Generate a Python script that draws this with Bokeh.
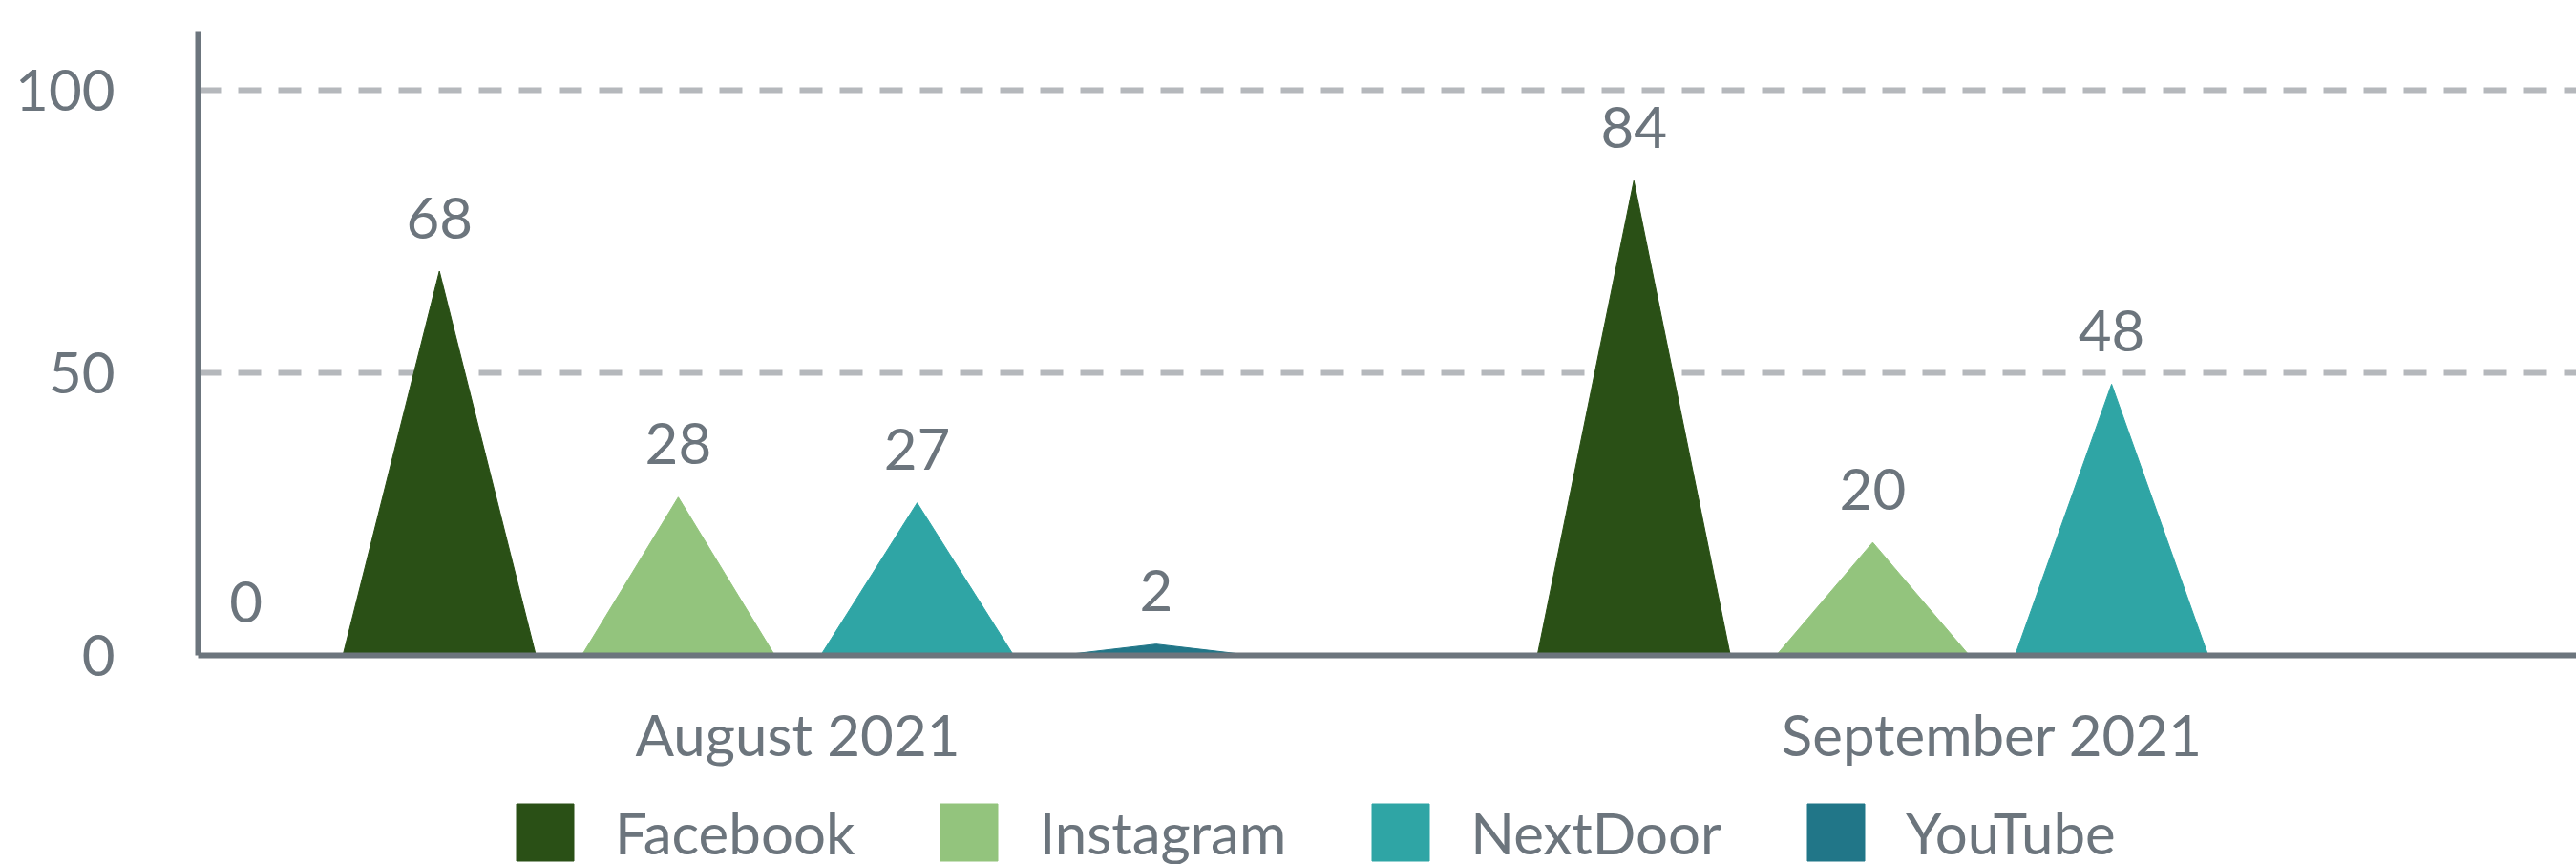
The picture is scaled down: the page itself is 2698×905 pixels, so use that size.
from bokeh.plotting import figure
from bokeh.models import (ColumnDataSource, FixedTicker, Legend, LegendItem, Range1d)
from bokeh.layouts import column
from bokeh.core.properties import value
from bokeh.embed import file_html
from bokeh.resources import INLINE

# ---- data ----
categories = ["August 2021", "September 2021"]
series = ["Facebook", "Instagram", "NextDoor", "YouTube"]
facebook = [68, 84]
instagram = [28, 20]
nextdoor = [27, 48]
youtube = [2, 0]
colors = ["#2a5016", "#93c47d", "#2fa5a5", "#217688"]
y_ticks = [0, 50, 100]
# a stray "0" data label that sits at the far left of the first group
stray_label_x = [-0.462]
stray_label_y = [0]
stray_label_text = ["0"]

values = [facebook, instagram, nextdoor, youtube]

TEXT = "#6c757d"
FONT = "Lato"
W = 2698
H_MAIN = 812
H_LEG = 93

p = figure(width=W, height=H_MAIN, output_backend="svg", toolbar_location=None,
           x_range=Range1d(-0.502, 1.4892), y_range=Range1d(0, 110.5),
           min_border_left=207, min_border_right=0, min_border_top=32,
           min_border_bottom=H_MAIN - 686)
p.outline_line_color = None
p.background_fill_color = "white"
p.border_fill_color = "white"

offsets = [-0.3, -0.1, 0.1, 0.3]
half_w = 0.0808

lx, ly, lt = [], [], []
for s, vals, col, off in zip(series, values, colors, offsets):
    xs, ys = [], []
    for gi, v in enumerate(vals):
        c = gi + off
        xs.append([c - half_w, c, c + half_w])
        ys.append([0, v, 0])
        if v > 0:
            lx.append(c)
            ly.append(v)
            lt.append(str(v))
    p.patches(xs=xs, ys=ys, fill_color=col, line_color=col, line_width=1)

lx += stray_label_x
ly += stray_label_y
lt += stray_label_text
lab_src = ColumnDataSource(dict(x=lx, y=ly, t=lt))
p.text(x="x", y="y", text="t", source=lab_src, text_align="center",
       text_baseline="alphabetic", y_offset=-56, text_font=value(FONT),
       text_font_size="60px", text_color=TEXT)

# grid
p.xgrid.visible = False
p.ygrid.ticker = FixedTicker(ticks=[t for t in y_ticks if t > 0])
p.ygrid.grid_line_color = "#b5b8bc"
p.ygrid.grid_line_width = 6
p.ygrid.grid_line_dash = "24 18"

# y axis
p.yaxis.ticker = FixedTicker(ticks=y_ticks)
p.yaxis.axis_line_color = TEXT
p.yaxis.axis_line_width = 6
p.yaxis.major_tick_line_color = None
p.yaxis.minor_tick_line_color = None
p.yaxis.major_label_text_font = FONT
p.yaxis.major_label_text_font_size = "60px"
p.yaxis.major_label_text_color = TEXT
p.yaxis.major_label_standoff = 81

# x axis
p.xaxis.ticker = FixedTicker(ticks=list(range(len(categories))))
p.xaxis.major_label_overrides = {i: c for i, c in enumerate(categories)}
p.xaxis.axis_line_color = TEXT
p.xaxis.axis_line_width = 6
p.xaxis.major_tick_line_color = None
p.xaxis.minor_tick_line_color = None
p.xaxis.major_label_text_font = FONT
p.xaxis.major_label_text_font_size = "60px"
p.xaxis.major_label_text_color = TEXT
p.xaxis.major_label_standoff = 40

# ---- legend strip ----
lg = figure(width=W, height=H_LEG, output_backend="svg", toolbar_location=None,
            x_axis_location=None, y_axis_location=None,
            min_border_left=0, min_border_right=0, min_border_top=0,
            min_border_bottom=0, x_range=Range1d(0, 1), y_range=Range1d(0, 1))
lg.outline_line_color = None
lg.grid.visible = False
items = []
for s, col in zip(series, colors):
    # zero-size swatch renderer: only its legend glyph is seen
    r = lg.rect(x=[0], y=[0], width=0, height=0, fill_color=col, line_color=col)
    items.append(LegendItem(label=s, renderers=[r]))
leg = Legend(items=items, orientation="horizontal", location=(326, -4),
             glyph_width=75, glyph_height=75, label_standoff=36, spacing=82,
             label_text_font=FONT, label_text_font_size="60px",
             label_text_color=TEXT, padding=0, margin=0,
             border_line_color=None, background_fill_alpha=0)
lg.add_layout(leg, "center")

layout = column(p, lg, spacing=0)
open("out.html", "w").write(file_html(layout, INLINE))
